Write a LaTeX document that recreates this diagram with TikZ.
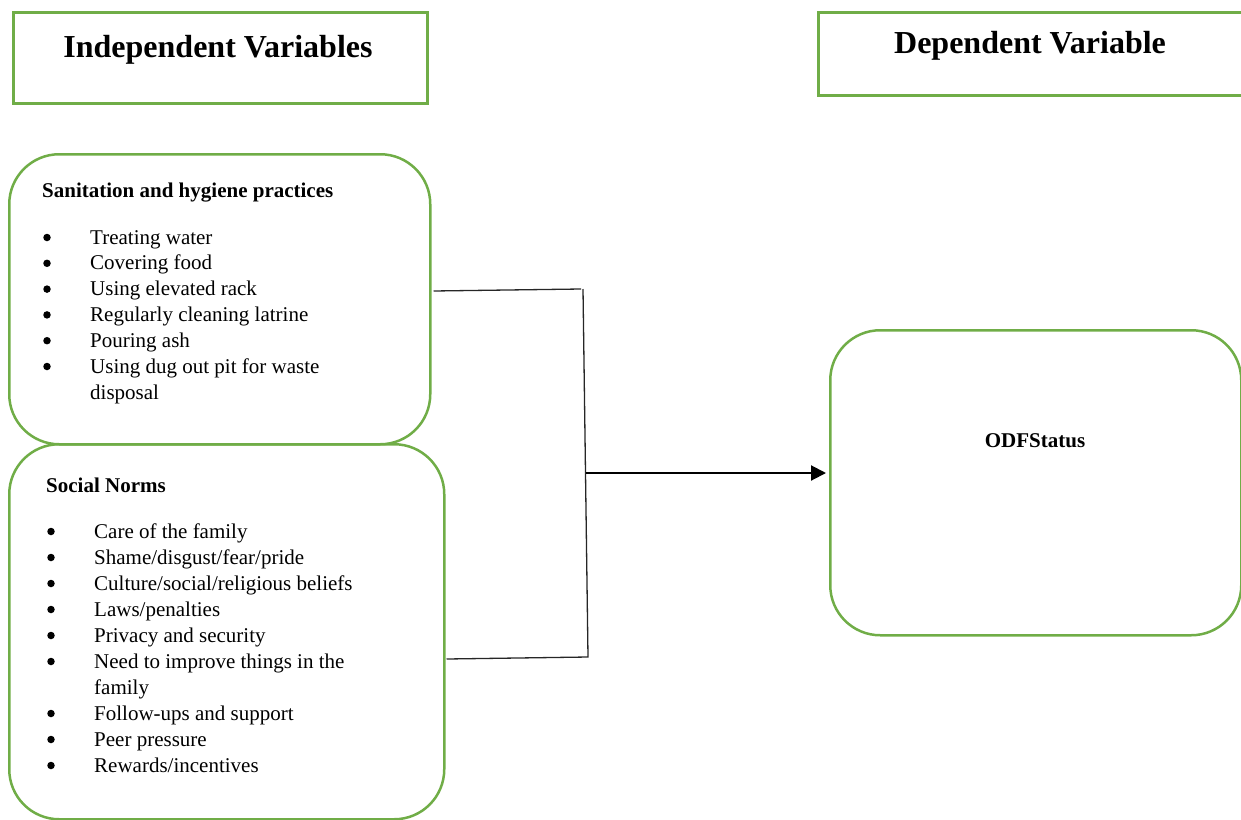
\documentclass[tikz,border=0pt]{standalone}
\usepackage{fontspec}
\setmainfont{Liberation Serif}
\usetikzlibrary{arrows.meta}
\definecolor{boxgreen}{HTML}{70AD47}
\begin{document}
\begin{tikzpicture}[x=1pt,y=-1pt,
  gbox/.style={draw=boxgreen, line width=2.5pt, inner sep=0pt, anchor=north west},
  rbox/.style={gbox, rounded corners=50pt},
  titletext/.style={font=\fontsize{32}{38}\selectfont\bfseries, anchor=base, inner sep=0pt},
  headtext/.style={font=\fontsize{21}{26}\selectfont\bfseries, anchor=base west, inner sep=0pt},
  itemtext/.style={font=\fontsize{21}{26}\selectfont, anchor=base west, inner sep=0pt},
  bulletdot/.style={circle, fill=black, inner sep=0pt, minimum size=7.5pt},
  conn/.style={draw=black!85, line width=1.3pt},
]
\useasboundingbox (0,0) rectangle (1241,819);

% title boxes
\node[gbox, minimum width=414pt, minimum height=91pt] (ivbox) at (12,11) {};
\node[gbox, minimum width=430pt, minimum height=83pt] (dvbox) at (817,11) {};
\node[titletext] (ivtitle) at (218,57) {Independent Variables};
\node[titletext] (dvtitle) at (1030,53) {Dependent Variable};

% rounded boxes
\node[rbox, minimum width=421pt, minimum height=290pt] (san) at (8,153) {};
\node[rbox, minimum width=435pt, minimum height=375pt] (soc) at (8,443) {};
\node[rbox, minimum width=411pt, minimum height=305pt] (odf) at (829,329) {};

% sanitation text
\node[headtext] (sanhead) at (42,197) {Sanitation and hygiene practices};
\foreach \t [count=\i] in {Treating water, Covering food, Using elevated rack,
  Regularly cleaning latrine, Pouring ash, Using dug out pit for waste}{
  \pgfmathsetmacro{\yy}{244+(\i-1)*25.8}
  \node[bulletdot] (sanb\i) at (47,\yy-6.5) {};
  \node[itemtext] (sani\i) at (90,\yy) {\t};
}
\node[itemtext] (sani7) at (90,399) {disposal};

% social norms text
\node[headtext] (sochead) at (46,492) {Social Norms};
\foreach \t [count=\i] in {{Care of the family}, {Shame/disgust/fear/pride},
  {Culture/social/religious beliefs}, {Laws/penalties}, {Privacy and security},
  {Need to improve things in the}, {Follow-ups and support},
  {Peer pressure}, {Rewards/incentives}}{
  \pgfmathsetmacro{\yy}{538+(\i-1)*26+(\i>6)*26}
  \node[bulletdot] (socb\i) at (51,\yy-6.5) {};
  \node[itemtext] (soci\i) at (94,\yy) {\t};
}
\node[itemtext] (soci10) at (94,694) {family};

% ODF text
\node[headtext, anchor=base] (odftext) at (1035,447) {ODFStatus};

% connectors
\coordinate (c1) at (581,289);
\coordinate (c2) at (583,289);
\coordinate (c3) at (588,657);
\coordinate (mid) at (585.5,473);
\draw[conn] ([xshift=2pt]san.east |- 0,291) -- (c1);
\draw[conn] (c2) -- (c3) -- ([xshift=1pt]soc.east |- 0,659);
\draw[draw=black, line width=2pt, -{Triangle[length=15pt,width=15pt]}] (mid) -- ([xshift=-3pt]odf.west |- mid);
\end{tikzpicture}
\end{document}
